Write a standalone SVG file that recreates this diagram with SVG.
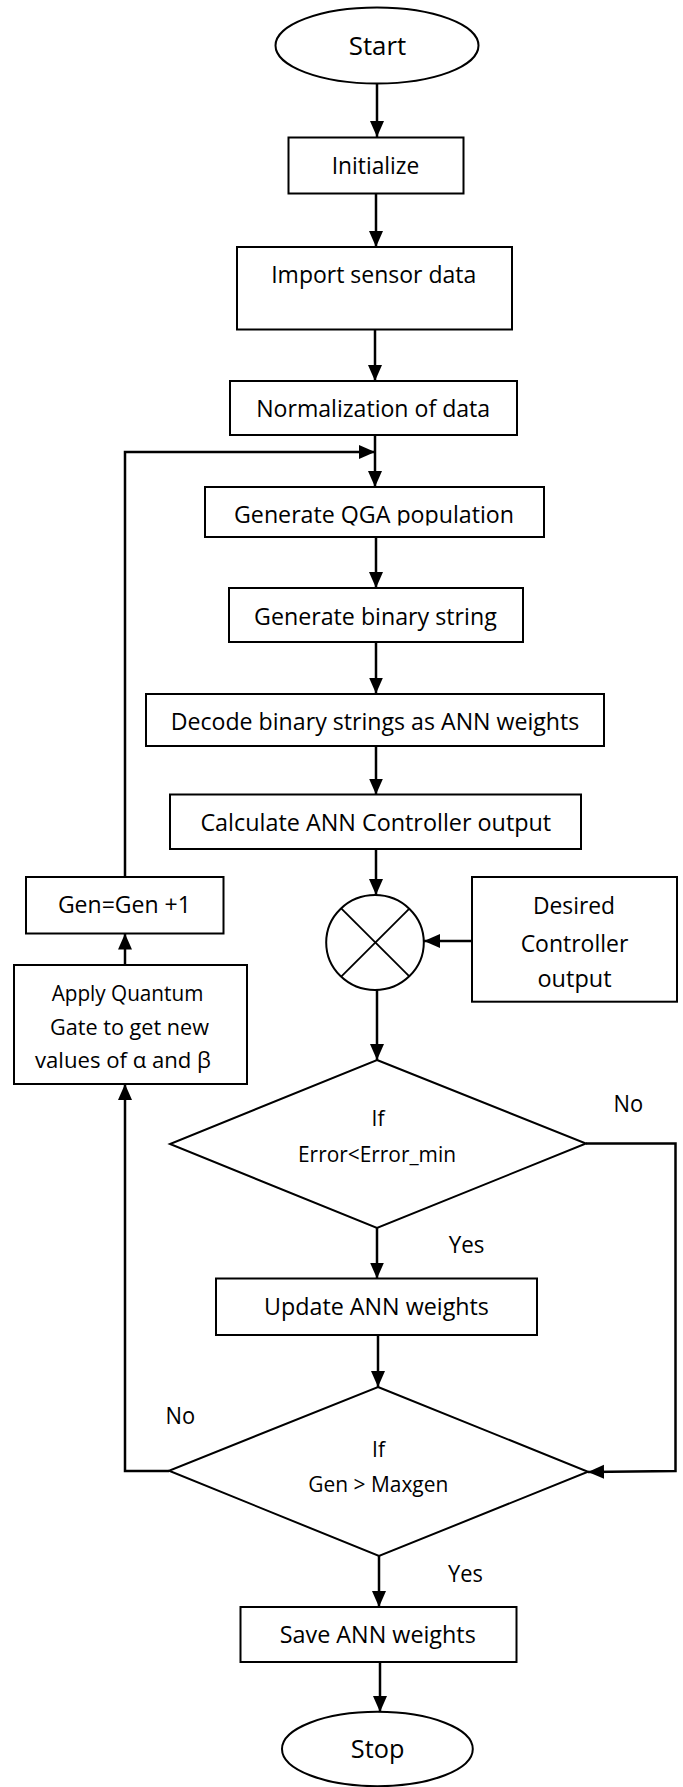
<svg xmlns="http://www.w3.org/2000/svg" width="683" height="1787" viewBox="0 0 683 1787">
<style>
.n{fill:#fff;stroke:#000;stroke-width:2}
.t{font-family:'Open Sans','Liberation Sans',sans-serif;font-size:23px;fill:#000;text-anchor:middle}
.s{font-size:22px}
.d{font-size:21px}
.e{font-size:26px}
.c{fill:none;stroke:#000;stroke-width:2.5}
.ca{fill:none;stroke:#000;stroke-width:2.5;marker-end:url(#ah)}
</style>
<defs>
<marker id="ah" markerUnits="userSpaceOnUse" markerWidth="16" markerHeight="16" viewBox="0 0 16 14" refX="16" refY="7" orient="auto">
<path d="M0,0 L16,7 L0,14 Z" fill="#000"/>
</marker>
<clipPath id="qclip"><rect x="200" y="480" width="350" height="45.5"/></clipPath>
</defs>
<rect width="683" height="1787" fill="#fff"/>
<g id="connectors">
<line class="ca" x1="377" y1="83.5" x2="377" y2="137"/>
<line class="ca" x1="376" y1="193.5" x2="376" y2="247"/>
<line class="ca" x1="375" y1="329.5" x2="375" y2="381"/>
<line class="ca" x1="375" y1="435" x2="375" y2="487"/>
<polyline class="ca" points="125,877 125,452 375,452"/>
<line class="ca" x1="376" y1="537" x2="376" y2="588"/>
<line class="ca" x1="376" y1="642" x2="376" y2="693.5"/>
<line class="ca" x1="376" y1="746" x2="376" y2="794.5"/>
<line class="ca" x1="376" y1="849" x2="376" y2="895"/>
<line class="ca" x1="472" y1="941" x2="424" y2="941"/>
<line class="ca" x1="377" y1="990" x2="377" y2="1060"/>
<line class="ca" x1="377" y1="1228" x2="377" y2="1278.5"/>
<line class="ca" x1="378" y1="1335" x2="378" y2="1387"/>
<line class="ca" x1="379" y1="1556" x2="379" y2="1607"/>
<line class="ca" x1="380" y1="1662" x2="380" y2="1712"/>
<polyline class="ca" points="586,1143.5 675.5,1143.5 675.5,1471 588,1472"/>
<polyline class="ca" points="169,1471 125,1471 125,1084"/>
<line class="ca" x1="125" y1="965" x2="125" y2="933.5"/>
</g>
<g id="start">
<ellipse class="n" cx="377" cy="45.5" rx="101.5" ry="38"/>
<text class="t e" x="377.5" y="54.5" textLength="57.5" lengthAdjust="spacingAndGlyphs">Start</text>
</g>
<g id="initialize">
<rect class="n" x="288.5" y="137.5" width="175" height="56"/>
<text class="t" x="375.5" y="174" textLength="87.6" lengthAdjust="spacingAndGlyphs">Initialize</text>
</g>
<g id="import">
<rect class="n" x="237" y="247" width="275" height="82.5"/>
<text class="t" x="373.7" y="283" textLength="205" lengthAdjust="spacingAndGlyphs">Import sensor data</text>
</g>
<g id="normalize">
<rect class="n" x="230" y="381" width="287" height="54"/>
<text class="t" x="373.2" y="417" textLength="234" lengthAdjust="spacingAndGlyphs">Normalization of data</text>
</g>
<g id="qga">
<rect class="n" x="205" y="487" width="339" height="50"/>
<text class="t" x="374" y="523.3" textLength="280" lengthAdjust="spacingAndGlyphs" clip-path="url(#qclip)">Generate QGA population</text>
</g>
<g id="binary">
<rect class="n" x="229" y="588" width="294" height="54"/>
<text class="t" x="375.4" y="625" textLength="242.7" lengthAdjust="spacingAndGlyphs">Generate binary string</text>
</g>
<g id="decode">
<rect class="n" x="146" y="694" width="458" height="52"/>
<text class="t" x="375" y="730" textLength="408.7" lengthAdjust="spacingAndGlyphs">Decode binary strings as ANN weights</text>
</g>
<g id="calculate">
<rect class="n" x="170" y="794.5" width="411" height="54.5"/>
<text class="t" x="375.8" y="830.7" textLength="350.8" lengthAdjust="spacingAndGlyphs">Calculate ANN Controller output</text>
</g>
<g id="gen">
<rect class="n" x="26" y="877" width="197.5" height="56.5"/>
<text class="t" x="124.4" y="913.3" textLength="133" lengthAdjust="spacingAndGlyphs">Gen=Gen +1</text>
</g>
<g id="apply">
<rect class="n" x="14" y="965" width="233" height="119"/>
<text class="t s" x="127.5" y="1000.7" textLength="151.7" lengthAdjust="spacingAndGlyphs">Apply Quantum</text>
<text class="t s" x="129.5" y="1035" textLength="159" lengthAdjust="spacingAndGlyphs">Gate to get new</text>
<text class="t s" x="123" y="1068" textLength="176" lengthAdjust="spacingAndGlyphs">values of α and β</text>
</g>
<g id="sum">
<ellipse class="n" cx="375" cy="942.5" rx="48.8" ry="47.5"/>
<line x1="341.2" y1="908.3" x2="409.6" y2="976.7" stroke="#000" stroke-width="1.8"/>
<line x1="409.6" y1="908.3" x2="341.2" y2="976.7" stroke="#000" stroke-width="1.8"/>
</g>
<g id="desired">
<rect class="n" x="472" y="877" width="205" height="124.7"/>
<text class="t" x="574" y="914" textLength="82" lengthAdjust="spacingAndGlyphs">Desired</text>
<text class="t" x="574.5" y="951.7" textLength="107.7" lengthAdjust="spacingAndGlyphs">Controller</text>
<text class="t" x="574.5" y="987" textLength="74" lengthAdjust="spacingAndGlyphs">output</text>
</g>
<g id="decision1">
<polygon class="n" points="377,1060 586,1143.5 377,1228 170,1144"/>
<text class="t d" x="378" y="1126">If</text>
<text class="t d" x="377" y="1161.7" textLength="158" lengthAdjust="spacingAndGlyphs">Error&lt;Error_min</text>
<text class="t" x="628.3" y="1111.7" textLength="29.6" lengthAdjust="spacingAndGlyphs">No</text>
<text class="t" x="466.6" y="1252.7" textLength="35.7" lengthAdjust="spacingAndGlyphs">Yes</text>
</g>
<g id="update">
<rect class="n" x="216" y="1278.5" width="321" height="56.5"/>
<text class="t" x="376.5" y="1315" textLength="224.9" lengthAdjust="spacingAndGlyphs">Update ANN weights</text>
</g>
<g id="decision2">
<polygon class="n" points="378,1387 588,1471.7 379,1556 169,1470.7"/>
<text class="t d" x="378.5" y="1456.7">If</text>
<text class="t d" x="378.3" y="1491.7" textLength="140" lengthAdjust="spacingAndGlyphs">Gen &gt; Maxgen</text>
<text class="t" x="180.4" y="1424" textLength="29.6" lengthAdjust="spacingAndGlyphs">No</text>
<text class="t" x="465.4" y="1581.7" textLength="34.8" lengthAdjust="spacingAndGlyphs">Yes</text>
</g>
<g id="save">
<rect class="n" x="240.5" y="1607" width="276" height="55"/>
<text class="t" x="377.8" y="1643.3" textLength="196" lengthAdjust="spacingAndGlyphs">Save ANN weights</text>
</g>
<g id="stop">
<ellipse class="n" cx="377.4" cy="1749" rx="95.4" ry="37.2"/>
<text class="t e" x="377.6" y="1758.3" textLength="53.6" lengthAdjust="spacingAndGlyphs">Stop</text>
</g>
</svg>
